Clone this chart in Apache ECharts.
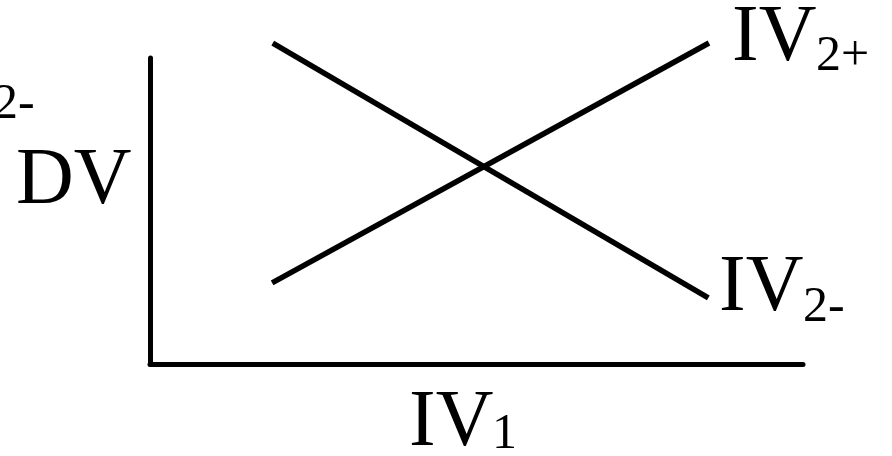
<!DOCTYPE html>
<html>
<head>
<meta charset="utf-8">
<script src="https://cdn.jsdelivr.net/npm/echarts@6/dist/echarts.min.js"></script>
<style>
  html, body { margin: 0; padding: 0; background: #fff; }
  #chart { width: 892px; height: 456px; }
</style>
</head>
<body>
<div id="chart"></div>
<script>
// interaction plot: two straight lines crossing, axis scale 0..100 (unlabelled)
const ivPlusLine = [[18.7, 26.5], [85.6, 104.9]]
const ivMinusLine = [[18.8, 104.9], [85.5, 21.6]]
const xAxisName = 'IV'
const xAxisSub = '1'
const yAxisName = 'DV'
const seriesNames = ['IV2+', 'IV2-']

const serif = '"Liberation Serif", "DejaVu Serif", serif'

const chart = echarts.init(document.getElementById('chart'))

// main letters and subscripts drawn as two pieces
const label = (x, y, main, sub, subDx, subDy) => ([
  {
    type: 'text', x: x, y: y,
    style: { text: main, font: '80px ' + serif, fill: '#000', align: 'left', verticalAlign: 'middle' }
  },
  {
    type: 'text', x: x + subDx, y: y + subDy,
    style: { text: sub, font: '50px ' + serif, fill: '#000', align: 'left', verticalAlign: 'middle' }
  }
])

chart.setOption({
  animation: false,
  backgroundColor: '#fff',
  grid: { left: 150, right: 89, top: 58, bottom: 92 },
  xAxis: {
    type: 'value', min: 0, max: 100,
    axisLine: { show: true, lineStyle: { color: '#000', width: 5 } },
    axisTick: { show: false }, axisLabel: { show: false }, splitLine: { show: false }
  },
  yAxis: {
    type: 'value', min: 0, max: 100,
    axisLine: { show: true, lineStyle: { color: '#000', width: 5 } },
    axisTick: { show: false }, axisLabel: { show: false }, splitLine: { show: false }
  },
  series: [
    {
      name: seriesNames[0], type: 'line', data: ivPlusLine,
      symbol: 'none', clip: false,
      lineStyle: { color: '#000', width: 5.5 }
    },
    {
      name: seriesNames[1], type: 'line', data: ivMinusLine,
      symbol: 'none', clip: false,
      lineStyle: { color: '#000', width: 5.5 }
    }
  ],
  graphic: [
    ...label(732, 39, 'IV', '2+', 84, 18),
    ...label(719, 289, 'IV', '2-', 84, 19),
    ...label(409, 424, xAxisName, xAxisSub, 83, 11),
    ...label(-91, 87, 'IV', '2-', 84, 18),
    {
      type: 'text', x: 16, y: 182,
      style: { text: yAxisName, font: '80px ' + serif, fill: '#000', align: 'left', verticalAlign: 'middle' }
    }
  ]
})
</script>
</body>
</html>
